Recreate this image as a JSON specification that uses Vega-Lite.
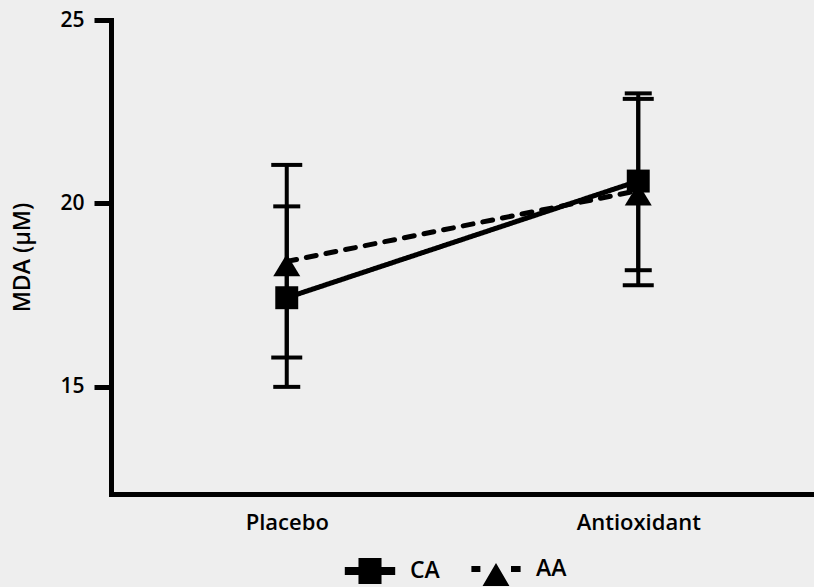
{
  "$schema": "https://vega.github.io/schema/vega-lite/v6.json",
  "width": 703,
  "height": 474,
  "autosize": "none",
  "padding": {"left": 111, "top": 20, "right": 0, "bottom": 93},
  "background": "#eeeeee",
  "config": {
    "view": {"stroke": null},
    "font": "Open Sans",
    "axis": {"labelColor": "black", "titleColor": "black", "domainColor": "black", "tickColor": "black", "grid": false, "labelFont": "Open Sans", "titleFont": "Open Sans", "labelFontWeight": 600}
  },
  "data": {
    "values": [
      {"group": "CA", "cond": "Placebo", "mean": 17.43, "lo": 15.0, "hi": 19.92},
      {"group": "AA", "cond": "Placebo", "mean": 18.42, "lo": 15.8, "hi": 21.05},
      {"group": "CA", "cond": "Antioxidant", "mean": 20.61, "lo": 18.18, "hi": 23.0},
      {"group": "AA", "cond": "Antioxidant", "mean": 20.35, "lo": 17.77, "hi": 22.85}
    ]
  },
  "encoding": {
    "x": {
      "field": "cond", "type": "nominal", "sort": ["Placebo", "Antioxidant"],
      "scale": {"type": "point", "padding": 0.5},
      "axis": {"title": null, "labelAngle": 0, "ticks": false, "domainWidth": 5, "domainCap": "square", "labelFontSize": 22, "labelPadding": 18}
    }
  },
  "resolve": {"scale": {"shape": "independent"}},
  "layer": [
    {
      "mark": {"type": "rule", "color": "black", "strokeWidth": 4},
      "encoding": {
        "y": {"field": "lo", "type": "quantitative", "scale": {"domain": [12.08, 25], "nice": false, "zero": false},
          "axis": {"values": [15, 20, 25], "title": "MDA (µM)", "titleFontSize": 23, "titleFontWeight": 600, "titlePadding": 25, "tickSize": 17, "tickWidth": 5, "domainWidth": 5, "domainCap": "square", "labelFontSize": 21, "labelPadding": 10}},
        "y2": {"field": "hi"}
      }
    },
    {
      "mark": {"type": "tick", "color": "black", "thickness": 4, "opacity": 1},
      "encoding": {
        "y": {"field": "lo", "type": "quantitative"},
        "size": {"field": "group", "type": "nominal", "scale": {"domain": ["AA", "CA"], "range": [31, 27]}, "legend": null}
      }
    },
    {
      "mark": {"type": "tick", "color": "black", "thickness": 4, "opacity": 1},
      "encoding": {
        "y": {"field": "hi", "type": "quantitative"},
        "size": {"field": "group", "type": "nominal", "scale": {"domain": ["AA", "CA"], "range": [31, 27]}, "legend": null}
      }
    },
    {
      "mark": {"type": "line", "color": "black", "strokeWidth": 5, "strokeCap": "round"},
      "encoding": {
        "y": {"field": "mean", "type": "quantitative"},
        "detail": {"field": "group"},
        "strokeDash": {"field": "group", "type": "nominal", "scale": {"domain": ["AA", "CA"], "range": [[10, 10], [1, 0]]}, "legend": null}
      }
    },
    {
      "mark": {"type": "point", "filled": true, "color": "black", "opacity": 1, "size": 729, "strokeWidth": 0},
      "encoding": {
        "y": {"field": "mean", "type": "quantitative"},
        "shape": {
          "field": "group", "type": "nominal",
          "scale": {"domain": ["AA", "CA"], "range": ["M0,-0.55L1,1.1L-1,1.1Z", "M-0.85,-0.85H0.85V0.85H-0.85Z"]},
          "legend": null
        }
      }
    },
    {
      "mark": {"type": "point", "filled": true, "color": "black", "opacity": 0, "size": 576, "strokeWidth": 0},
      "encoding": {
        "y": {"field": "mean", "type": "quantitative"},
        "shape": {
          "field": "group", "type": "nominal",
          "scale": {"domain": ["CA", "AA"], "range": ["M-2.1,-0.33H2.1V0.33H-2.1Z M-0.96,-1.08H0.96V1.08H-0.96Z", "M-2.05,-0.25H-1.3V0.25H-2.05Z M1.25,-0.25H2.05V0.25H1.25Z M0,-0.5L1.12,1.4L-1.12,1.4Z"]},
          "legend": {
            "title": null, "orient": "none", "legendX": 247, "legendY": 537, "direction": "horizontal",
            "symbolSize": 576, "symbolFillColor": "black", "symbolStrokeWidth": 0, "symbolOpacity": 1,
            "labelFont": "Open Sans", "labelFontSize": 23, "labelFontWeight": 600, "labelColor": "black", "labelOffset": 28, "columnPadding": 31
          }
        }
      }
    }
  ]
}
